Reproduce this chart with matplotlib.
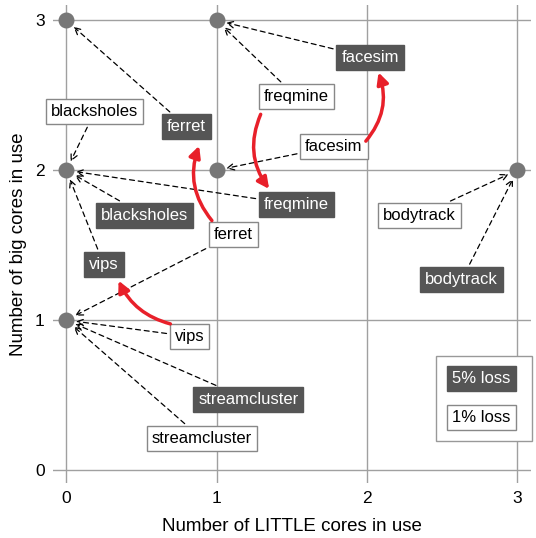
import matplotlib.pyplot as plt
from matplotlib.patches import Rectangle, FancyArrowPatch

plt.rcParams['font.family'] = ['Liberation Sans', 'DejaVu Sans']

# core configurations (LITTLE, big) chosen at each loss level
benchmarks = ['blacksholes', 'bodytrack', 'facesim', 'ferret', 'freqmine', 'streamcluster', 'vips']
little_1 = [0, 3, 1, 0, 1, 0, 0]
big_1 = [2, 2, 2, 1, 3, 1, 1]
little_5 = [0, 3, 1, 0, 0, 0, 0]
big_5 = [2, 2, 3, 3, 2, 1, 2]

# where the labels sit (layout only)
pos_1 = {'blacksholes': (0.19, 2.39), 'bodytrack': (2.35, 1.70), 'facesim': (1.78, 2.16),
         'ferret': (1.11, 1.57), 'freqmine': (1.53, 2.49), 'streamcluster': (0.90, 0.21),
         'vips': (0.82, 0.89)}
pos_5 = {'blacksholes': (0.52, 1.70), 'bodytrack': (2.63, 1.27), 'facesim': (2.02, 2.75),
         'ferret': (0.80, 2.29), 'freqmine': (1.53, 1.77), 'streamcluster': (1.21, 0.47),
         'vips': (0.25, 1.37)}

fig, ax = plt.subplots(figsize=(5.36, 5.38), dpi=100)
fig.subplots_adjust(left=0.099, right=0.99, top=0.99, bottom=0.102)

ax.set_xlim(-0.088, 3.088)
ax.set_ylim(-0.088, 3.1)
ax.set_xticks([0, 1, 2, 3])
ax.set_yticks([0, 1, 2, 3])
for s in ax.spines.values():
    s.set_visible(False)
ax.tick_params(length=0, labelsize=12.5, pad=6)
for v in range(4):
    ax.axvline(v, color='#a0a0a0', lw=1, zorder=0)
    ax.axhline(v, color='#a0a0a0', lw=1, zorder=0)
ax.set_xlabel('Number of LITTLE cores in use', fontsize=13.5, labelpad=8)
ax.set_ylabel('Number of big cores in use', fontsize=13.5, labelpad=6)

pts = set(zip(little_1, big_1)) | set(zip(little_5, big_5))
ax.scatter([p[0] for p in pts], [p[1] for p in pts], s=110, color='#777777', zorder=3)

white_box = dict(boxstyle='square,pad=0.3', fc='white', ec='#888888', lw=1)
dark_box = dict(boxstyle='square,pad=0.3', fc='#555555', ec='#555555', lw=1)
arrow = dict(arrowstyle='->', ls=(0, (4, 3)), color='black', lw=0.9, shrinkB=7,
             mutation_scale=12)
fs = 12

for i, b in enumerate(benchmarks):
    ax.annotate(b, xy=(little_1[i], big_1[i]), xytext=pos_1[b], fontsize=fs,
                ha='center', va='center', bbox=white_box, arrowprops=arrow, zorder=4)
    ax.annotate(b, xy=(little_5[i], big_5[i]), xytext=pos_5[b], fontsize=fs, color='white',
                ha='center', va='center', bbox=dark_box, arrowprops=arrow, zorder=4)

# red arrows: 1% config -> 5% config
red_moves = [((1.30, 2.39), (1.36, 1.86), 0.3),
             ((0.98, 1.65), (0.89, 2.18), -0.3),
             ((1.98, 2.18), (2.07, 2.67), 0.3),
             ((0.71, 0.97), (0.34, 1.28), -0.25)]
for a, b, r in red_moves:
    ax.add_patch(FancyArrowPatch(a, b, connectionstyle=f'arc3,rad={r}', arrowstyle='-|>',
                                 mutation_scale=17, color='#e8202a', lw=2.5, zorder=5))

# legend box
ax.add_patch(Rectangle((2.46, 0.19), 0.64, 0.57, fc='white', ec='#999999', lw=1,
                       zorder=4, clip_on=False))
ax.text(2.76, 0.61, '5% loss', fontsize=fs, color='white', ha='center', va='center',
        bbox=dark_box, zorder=5)
ax.text(2.76, 0.35, '1% loss', fontsize=fs, ha='center', va='center', bbox=white_box, zorder=5)

fig.savefig('out.png', dpi=100)
